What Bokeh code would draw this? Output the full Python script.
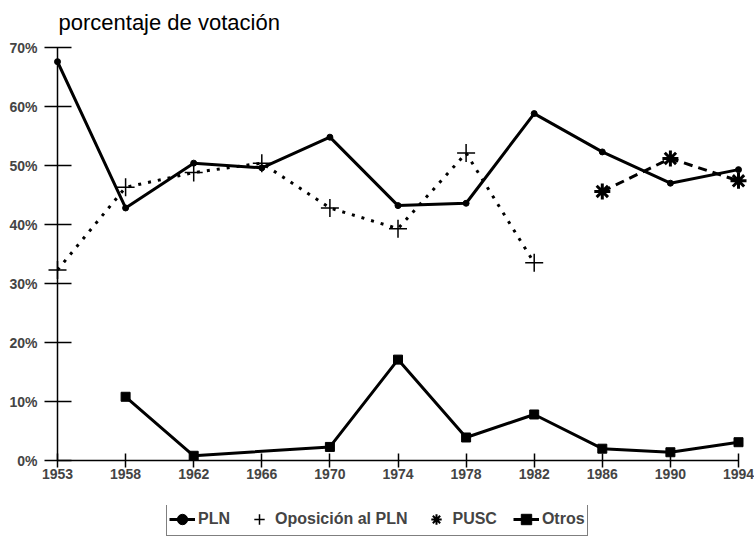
from bokeh.plotting import figure
from bokeh.models import Range1d, FixedTicker, Legend, LegendItem, Label
from bokeh.layouts import column
from bokeh.embed import file_html
from bokeh.resources import INLINE

# ---- data ----
years = ["1953", "1958", "1962", "1966", "1970", "1974", "1978", "1982", "1986", "1990", "1994"]
pln_values = [67.6, 42.8, 50.4, 49.6, 54.8, 43.2, 43.6, 58.8, 52.3, 47.0, 49.3]
oposicion_years = ["1953", "1958", "1962", "1966", "1970", "1974", "1978", "1982"]
oposicion_values = [32.3, 46.3, 48.8, 50.4, 42.8, 39.3, 52.1, 33.5]
pusc_years = ["1986", "1990", "1994"]
pusc_values = [45.6, 51.2, 47.4]
otros_years = ["1958", "1962", "1970", "1974", "1978", "1982", "1986", "1990", "1994"]
otros_values = [10.8, 0.8, 2.3, 17.1, 3.9, 7.8, 2.0, 1.4, 3.1]
y_ticks = [0, 10, 20, 30, 40, 50, 60, 70]
y_tick_labels = ["0%", "10%", "20%", "30%", "40%", "50%", "60%", "70%"]
title_text = "porcentaje de votación"
legend_labels = ["PLN", "Oposición al PLN", "PUSC", "Otros"]

idx = {y: i for i, y in enumerate(years)}
px = [idx[y] for y in years]
ox = [idx[y] for y in oposicion_years]
ux = [idx[y] for y in pusc_years]
tx = [idx[y] for y in otros_years]

FONT = "Liberation Sans"

# styles
PLN_LINE = dict(line_color="black", line_width=3)
OP_LINE = dict(line_color="black", line_width=3, line_dash="3 7")
PU_LINE = dict(line_color="black", line_width=3, line_dash="9 6")
OT_LINE = dict(line_color="black", line_width=3)
PLN_MK = dict(marker="circle", size=6, color="black")
OP_MK = dict(marker="cross", size=18, line_color="black", line_width=1.5)
PU_MK = dict(marker="asterisk", size=16, line_color="black", line_width=3)
OT_MK = dict(marker="square", size=9, color="black")


def strip(height):
    f = figure(width=754, height=height, output_backend="svg", toolbar_location=None,
               x_range=Range1d(0, len(years) - 1), y_range=Range1d(500, 501),
               x_axis_type=None, y_axis_type=None,
               min_border_left=0, min_border_right=0, min_border_top=0, min_border_bottom=0)
    f.outline_line_color = None
    f.grid.visible = False
    return f


# ---- title strip ----
p0 = strip(38)
p0.add_layout(Label(x=1, y=16, x_units="screen", y_units="screen", text=title_text,
                    text_font=FONT, text_font_size="22px", text_color="black",
                    text_baseline="alphabetic", text_align="left"))

# ---- main chart ----
p = figure(width=754, height=467, output_backend="svg", toolbar_location=None,
           x_range=Range1d(0, len(years) - 1), y_range=Range1d(0, 70),
           min_border_left=57, min_border_right=16, min_border_top=9, min_border_bottom=45)
p.outline_line_color = None
p.grid.visible = False

xa = p.xaxis[0]
xa.ticker = FixedTicker(ticks=px)
xa.major_label_overrides = {i: y for i, y in enumerate(years)}
xa.axis_line_width = 1.5
xa.axis_line_color = "black"
xa.major_tick_line_width = 1.5
xa.major_tick_in = 7
xa.major_tick_out = 7
xa.minor_tick_line_color = None
xa.major_label_text_font = FONT
xa.major_label_text_font_style = "bold"
xa.major_label_text_font_size = "14px"
xa.major_label_standoff = 1

ya = p.yaxis[0]
ya.ticker = FixedTicker(ticks=y_ticks)
ya.major_label_overrides = {v: l for v, l in zip(y_ticks, y_tick_labels)}
ya.axis_line_width = 1.5
ya.axis_line_color = "black"
ya.major_tick_line_width = 1.5
ya.major_tick_in = 14
ya.major_tick_out = 13
ya.minor_tick_line_color = None
ya.major_label_text_font = FONT
ya.major_label_text_font_style = "bold"
ya.major_label_text_font_size = "14px"
ya.major_label_standoff = 7

p.line(px, pln_values, **PLN_LINE)
p.scatter(px, pln_values, level="overlay", **PLN_MK)
p.line(ox, oposicion_values, **OP_LINE)
p.scatter(ox, oposicion_values, level="overlay", **OP_MK)
p.line(ux, pusc_values, **PU_LINE)
p.scatter(ux, pusc_values, level="overlay", **PU_MK)
p.line(tx, otros_values, **OT_LINE)
p.scatter(tx, otros_values, level="overlay", **OT_MK)

# ---- legend strip: same series, drawn out of view so only the legend shows ----
p2 = strip(48)
g1 = p2.line(px, pln_values, **PLN_LINE)
g1m = p2.scatter(px, pln_values, **PLN_MK)
g2 = p2.scatter(ox, oposicion_values, marker="cross", size=18, line_color="black", line_width=1.5)
g3 = p2.scatter(ux, pusc_values, marker="asterisk", size=16, line_color="black", line_width=2)
g4 = p2.line(tx, otros_values, **OT_LINE)
g4m = p2.scatter(tx, otros_values, **OT_MK)

legend = Legend(items=[
    LegendItem(label=legend_labels[0], renderers=[g1, g1m]),
    LegendItem(label=legend_labels[1], renderers=[g2]),
    LegendItem(label=legend_labels[2], renderers=[g3]),
    LegendItem(label=legend_labels[3], renderers=[g4, g4m]),
], orientation="horizontal", location=(109, 17))
legend.label_text_font = FONT
legend.label_text_font_style = "bold"
legend.label_text_font_size = "16px"
legend.glyph_width = 26
legend.glyph_height = 28
legend.label_height = 28
legend.label_standoff = 3
legend.spacing = 16
legend.padding = 2
legend.margin = 0
legend.border_line_color = "black"
legend.border_line_width = 1.5
legend.background_fill_alpha = 1
p2.add_layout(legend)

layout = column(p0, p, p2, spacing=0)
open("out.html", "w").write(file_html(layout, INLINE))
